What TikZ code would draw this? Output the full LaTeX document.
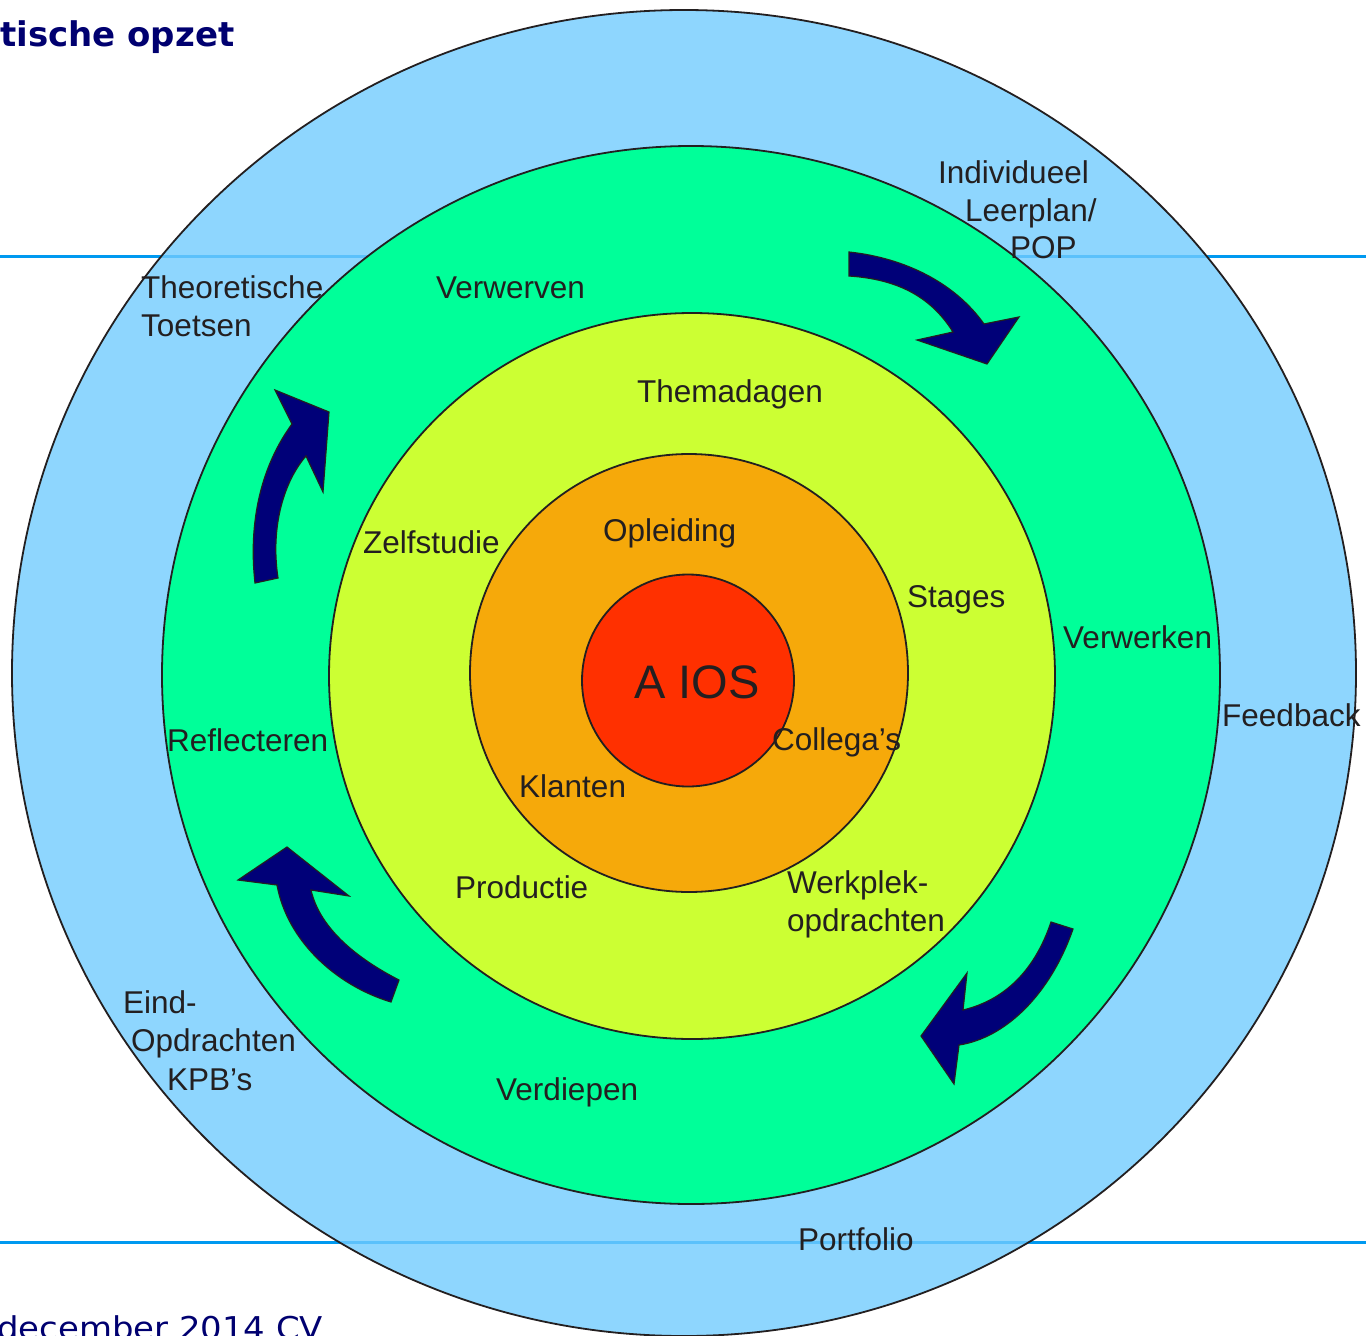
\documentclass[tikz,border=0pt]{standalone}
\usepackage{fontspec}
\setmainfont{Liberation Sans}
\newfontfamily\titlefont{DejaVu Sans}
\newfontfamily\footfont[FakeStretch=1.08]{DejaVu Sans}
\definecolor{ringblue}{RGB}{114,204,254}
\definecolor{ringgreen}{RGB}{0,255,153}
\definecolor{ringyellow}{RGB}{204,255,51}
\definecolor{ringorange}{RGB}{246,169,10}
\definecolor{ringred}{RGB}{255,48,0}
\definecolor{arrownavy}{RGB}{0,0,120}
\definecolor{titlenavy}{RGB}{0,0,112}
\definecolor{rulecol}{RGB}{0,153,240}
\definecolor{txt}{RGB}{35,31,32}
\definecolor{edge}{RGB}{35,31,32}
\begin{document}
\begin{tikzpicture}[x=1pt,y=-1pt,
  ring/.style={draw=edge,line width=1.8pt},
  lbl/.style={anchor=base west,inner sep=0pt,text=txt,font=\fontsize{31.5}{36}\selectfont},
  bigl/.style={anchor=base west,inner sep=0pt,text=txt,font=\fontsize{47}{52}\selectfont},
  cyclearrow/.style={fill=arrownavy,draw=edge,line width=1.2pt,line join=miter}]
\clip (0,0) rectangle (1366,1336);
\fill[white] (0,0) rectangle (1366,1336);
% horizontal rules
\coordinate (r1a) at (0,256); \coordinate (r1b) at (1366,256);
\coordinate (r2a) at (0,1242); \coordinate (r2b) at (1366,1242);
\draw[rulecol,line width=3pt] (r1a) -- (r1b);
\draw[rulecol,line width=3pt] (r2a) -- (r2b);
% rings
\coordinate (cb) at (684,673);
\fill[ringblue,fill opacity=0.8] (cb) ellipse [x radius=672pt,y radius=663pt];
\draw[ring] (cb) ellipse [x radius=672pt,y radius=663pt];
\coordinate (cg) at (691,675);
\draw[ring,fill=ringgreen] (cg) circle [radius=529pt];
\coordinate (cy) at (692,676);
\draw[ring,fill=ringyellow] (cy) circle [radius=363pt];
\coordinate (co) at (689,673);
\draw[ring,fill=ringorange] (co) circle [radius=219pt];
\coordinate (cr) at (688,680.5);
\draw[ring,fill=ringred] (cr) circle [radius=106pt];
% arrows
\draw[cyclearrow] (849,252) .. controls (905,258) and (955,283) .. (984,324)
  -- (1019,317) -- (987,364) -- (917,340) -- (953,332)
  .. controls (930,295) and (895,279) .. (849,276) -- cycle;
\draw[cyclearrow] (1051,922) .. controls (1035,970) and (1005,1000) .. (963,1010)
  -- (967,973) -- (921,1036) -- (954,1084) -- (959,1045)
  .. controls (1005,1038) and (1050,995) .. (1073,929) -- cycle;
\draw[cyclearrow] (399,980) .. controls (360,960) and (320,930) .. (311,890)
  -- (349,896) -- (287,847) -- (238,880) -- (277,885)
  .. controls (287,940) and (335,985) .. (391,1002) -- cycle;
\draw[cyclearrow] (255,583) .. controls (248,520) and (262,465) .. (292,424)
  -- (275,390) -- (329,412) -- (323,492) -- (306,456)
  .. controls (285,480) and (270,525) .. (278,578) -- cycle;
% labels
\node[lbl] (theo1) at (141,298) {Theoretische};
\node[lbl] (theo2) at (141,336) {Toetsen};
\node[lbl] (ind1) at (938,183) {Individueel};
\node[lbl] (ind2) at (965,221) {Leerplan/};
\node[lbl] (ind3) at (1010,258) {POP};
\node[lbl] (verwerven) at (436,298) {Verwerven};
\node[lbl] (thema) at (637,402) {Themadagen};
\node[lbl] (zelf) at (363,553) {Zelfstudie};
\node[lbl] (opl) at (603,541) {Opleiding};
\node[lbl] (stages) at (907,607) {Stages};
\node[lbl] (verwerken) at (1063,648) {Verwerken};
\node[lbl] (feedback) at (1222,726) {Feedback};
\node[bigl] (aios) at (634,698) {A IOS};
\node[lbl] (refl) at (167,751) {Reflecteren};
\node[lbl] (coll) at (772,750) {Collega’s};
\node[lbl] (klant) at (519,797) {Klanten};
\node[lbl] (prod) at (455,898) {Productie};
\node[lbl] (werk1) at (787,893) {Werkplek-};
\node[lbl] (werk2) at (787,931) {opdrachten};
\node[lbl] (eind1) at (123,1013) {Eind-};
\node[lbl] (eind2) at (131,1051) {Opdrachten};
\node[lbl] (eind3) at (167,1090) {KPB’s};
\node[lbl] (verdiepen) at (496,1100) {Verdiepen};
\node[lbl] (portfolio) at (798,1250) {Portfolio};
% title and footer
\node[anchor=base west,inner sep=0pt,text=titlenavy,font=\titlefont\bfseries\fontsize{34}{40}\selectfont] (title) at (0,46) {tische opzet};
\node[anchor=base west,inner sep=0pt,text=titlenavy,font=\footfont\fontsize{31.4}{36}\selectfont] (footer) at (-3,1339) {december 2014 CV};
\end{tikzpicture}
\end{document}
